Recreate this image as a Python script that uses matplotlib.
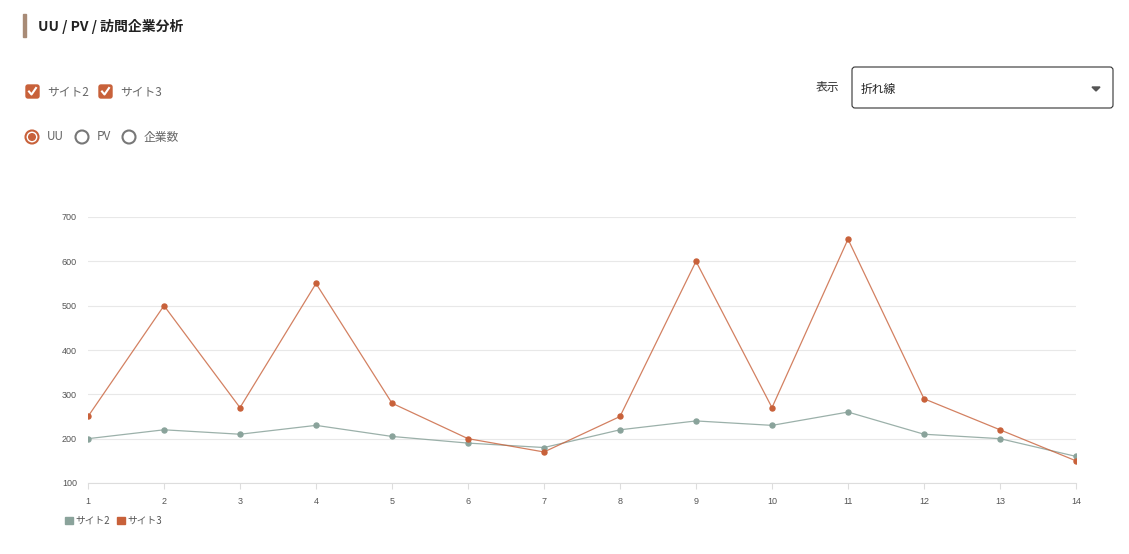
import matplotlib
matplotlib.use("Agg")
import matplotlib.pyplot as plt
from matplotlib.patches import Rectangle, Circle, FancyBboxPatch, Polygon, Patch
from matplotlib.lines import Line2D

plt.rcParams['font.family'] = ['Noto Sans CJK JP', 'DejaVu Sans']

days = [1, 2, 3, 4, 5, 6, 7, 8, 9, 10, 11, 12, 13, 14]
site2 = [200, 220, 210, 230, 205, 190, 180, 220, 240, 230, 260, 210, 200, 160]
site3 = [250, 500, 270, 550, 280, 200, 170, 250, 600, 270, 650, 290, 220, 150]
yticks = [100, 200, 300, 400, 500, 600, 700]

c2 = "#8aa39b"
c3 = "#c8613a"
W, H = 1129, 554

fig = plt.figure(figsize=(W / 100, H / 100), dpi=100)
tr = fig.dpi_scale_trans  # inches; 1 px = 0.01 in


def px(x, y):
    return (x / 100, (H - y) / 100)


def fx(x):
    return x / W


def fy(y):
    return 1 - y / H


# header / controls
fig.add_artist(Rectangle(px(23, 37), 0.025, 0.23, color="#a88b76", transform=tr))
fig.text(fx(38), fy(26), "UU / PV / 訪問企業分析", fontsize=10, fontweight="bold", color="#222222", va="center")

for bx, label in [(26, "サイト2"), (99, "サイト3")]:
    fig.add_artist(FancyBboxPatch(px(bx, 98), 0.13, 0.13, boxstyle="round,pad=0,rounding_size=0.02",
                                  color=c3, transform=tr))
    xs, ys = zip(px(bx + 3, 91.5), px(bx + 5.5, 94.5), px(bx + 10, 88))
    fig.add_artist(Line2D(xs, ys, color="white", lw=1.5, transform=tr))
    fig.text(fx(bx + 21), fy(92), label, fontsize=8.5, color="#666666", va="center")

for cx, label, sel in [(32, "UU", True), (82, "PV", False), (129, "企業数", False)]:
    fig.add_artist(Circle(px(cx, 137), 0.065, transform=tr, fill=False,
                          ec=c3 if sel else "#777777", lw=1.5))
    if sel:
        fig.add_artist(Circle(px(cx, 137), 0.033, transform=tr, color=c3))
    fig.text(fx(cx + 15), fy(137), label, fontsize=8.5, color="#666666", va="center")

fig.text(fx(816), fy(88), "表示", fontsize=8.5, color="#333333", va="center")
fig.add_artist(FancyBboxPatch(px(852, 108), 2.61, 0.41, boxstyle="round,pad=0,rounding_size=0.03",
                              fill=False, ec="#333333", lw=0.8, transform=tr))
fig.text(fx(861), fy(89), "折れ線", fontsize=8.5, color="#222222", va="center")
fig.add_artist(Polygon([px(1092, 87), px(1100, 87), px(1096, 91)], closed=True,
                       color="#555555", transform=tr))

# chart
ax = fig.add_axes([fx(88), fy(483), (1076 - 88) / W, (483 - 217) / H])
ax.plot(days, site2, color=c2, lw=0.9, alpha=0.85, zorder=3)
ax.plot(days, site3, color=c3, lw=0.9, alpha=0.8, zorder=4)
ax.plot(days, site2, "o", color=c2, ms=3.6, zorder=5)
ax.plot(days, site3, "o", color=c3, ms=3.6, zorder=6)
ax.set_xlim(1, 14)
ax.set_ylim(100, 700)
ax.set_xticks(days)
ax.set_yticks(yticks)
ax.grid(axis="y", color="#e8e8e8", lw=0.8)
ax.set_axisbelow(True)
for s in ["top", "right", "left"]:
    ax.spines[s].set_visible(False)
ax.spines["bottom"].set_color("#dddddd")
ax.tick_params(axis="y", length=0, pad=8, labelsize=6.5, labelcolor="#555555")
ax.tick_params(axis="x", length=4, color="#dddddd", pad=6, labelsize=6.5, labelcolor="#555555")
for t in ax.get_xticklabels() + ax.get_yticklabels():
    t.set_family("Liberation Sans")

handles = [Patch(color=c2, label="サイト2"), Patch(color=c3, label="サイト3")]
fig.legend(handles=handles, loc="center left", bbox_to_anchor=(fx(65), fy(521)), ncol=2, frameon=False,
           fontsize=7, handlelength=0.8, handleheight=0.8, handletextpad=0.3, columnspacing=0.7,
           labelcolor="#555555", borderaxespad=0, borderpad=0)

fig.savefig("out.png", dpi=100)
